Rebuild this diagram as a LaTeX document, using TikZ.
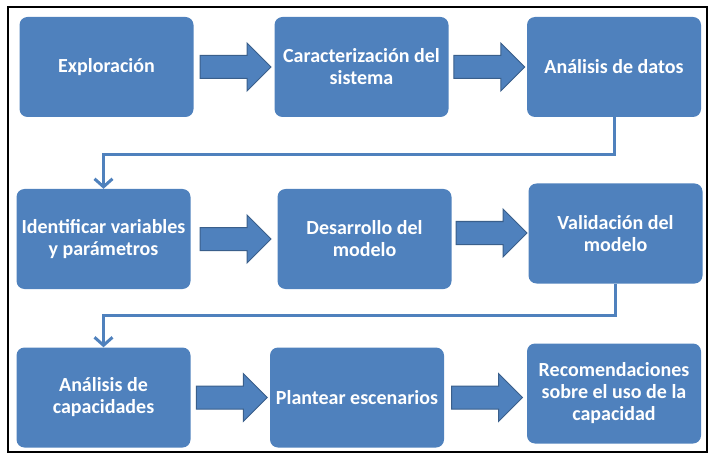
\documentclass[tikz,border=0pt]{standalone}
\usepackage{fontspec}
\setsansfont{Carlito}
\usetikzlibrary{arrows.meta,calc}

\definecolor{azul}{HTML}{4F81BD}
\definecolor{azulosc}{HTML}{3A5F8B}

% flecha de bloque entre dos cajas (opcional: desplazamiento vertical)
\newcommand{\flecha}[3][0]{%
  \filldraw[fill=azul,draw=azulosc,line width=1pt]
    let \p1=(#2.east), \p2=(#3.west),
        \n1={0.5*(\x1+\x2)+1.5}, \n2={\y1+#1} in
    (\n1-35.5pt,\n2-11.5pt) -- (\n1+11.5pt,\n2-11.5pt) -- (\n1+11.5pt,\n2-24pt)
    -- (\n1+35.5pt,\n2) -- (\n1+11.5pt,\n2+24pt) -- (\n1+11.5pt,\n2+11.5pt)
    -- (\n1-35.5pt,\n2+11.5pt) -- cycle;}

\begin{document}
\begin{tikzpicture}[x=1pt, y=-1pt, >={Straight Barb[length=8pt,width=18pt]}]
        \tikzstyle{caja}=[fill=azul, rounded corners=8pt, minimum width=174pt, minimum height=100pt,
                          text=white, align=center, inner sep=2pt,
                          font=\sffamily\bfseries\fontsize{20}{22}\selectfont]
        \tikzstyle{enlace}=[draw=azul, line width=3pt]

        \useasboundingbox (0,0) rectangle (711,454);
        \draw[line width=2pt] (8,7) rectangle (707,452);

        \node[caja](explo) at (106.5,67){Exploración};
        \node[caja](carac) at (361.5,67){Caracterización del\\sistema};
        \node[caja](datos) at (614,67){Análisis de datos};

        \node[caja](ident) at (103.5,239){Identificar variables\\y parámetros};
        \node[caja](desar) at (364.5,239){Desarrollo del\\modelo};
        \node[caja](valid) at (615.5,233.5){Validación del\\modelo};

        \node[caja](capac) at (103.5,397.5){Análisis de\\capacidades};
        \node[caja](escen) at (357,397.5){Plantear escenarios};
        \node[caja](recom) at (614,393.5){Recomendaciones\\sobre el uso de la\\capacidad};

        \flecha{explo}{carac}
        \flecha{carac}{datos}
        \flecha{ident}{desar}
        \flecha[6]{desar}{valid}
        \flecha{capac}{escen}
        \flecha{escen}{recom}

        \draw[enlace, ->] (datos.south) -- ++(0,37) -| (ident.north);
        \draw[enlace, ->] (valid.south) -- ++(0,31.5) -| (capac.north);

        \end{tikzpicture}
\end{document}
